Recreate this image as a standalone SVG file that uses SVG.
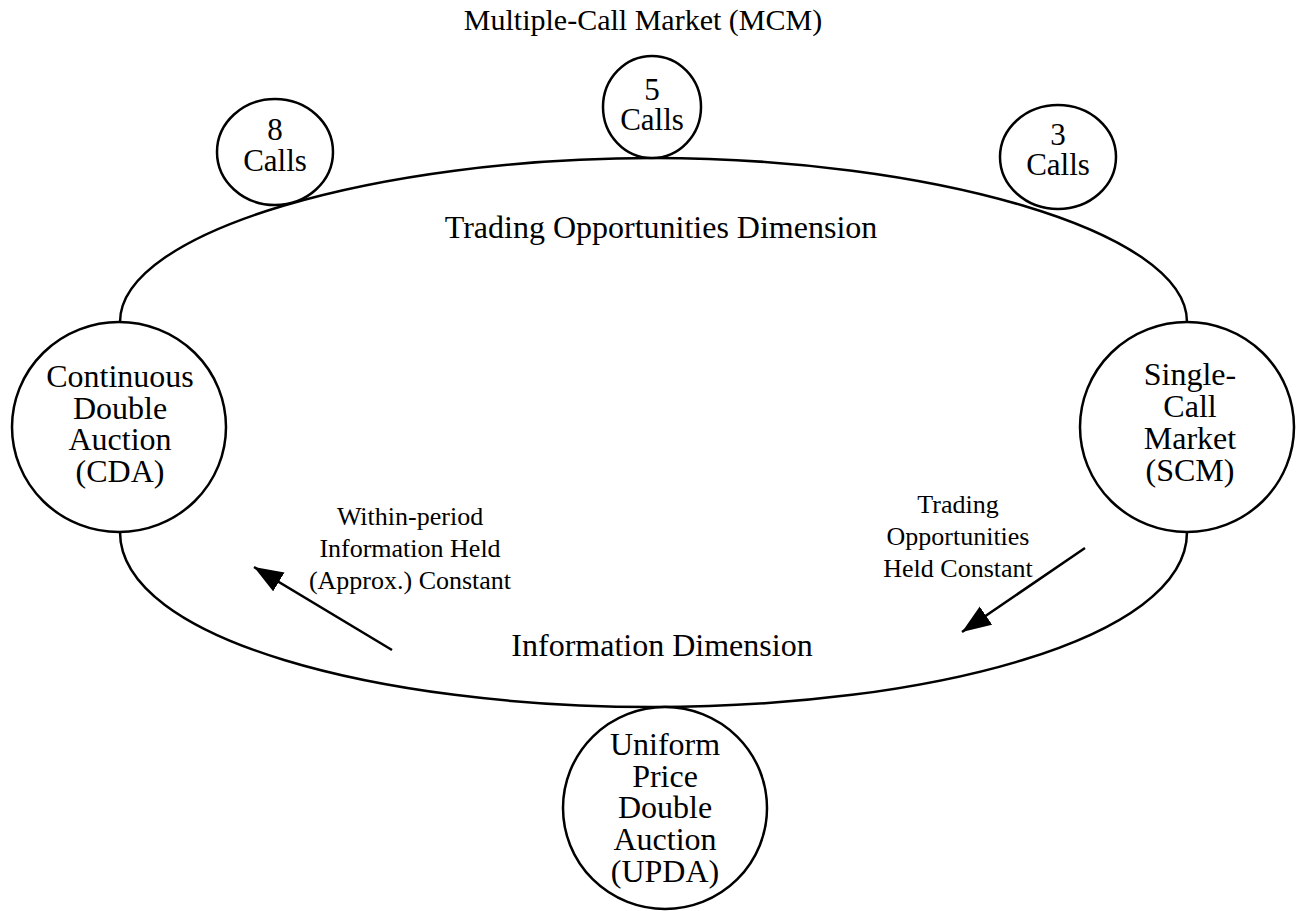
<svg xmlns="http://www.w3.org/2000/svg" width="1306" height="911" viewBox="0 0 1306 911">
<style>
text { font-family: "Liberation Serif", "Times New Roman", serif; fill: #000; text-anchor: middle; }
.big { font-size: 32px; }
.mid { font-size: 31px; }
.small { font-size: 26px; }
.title { font-size: 30px; }
.node { fill: #fff; stroke: #000; stroke-width: 2.5; }
.ring { fill: none; stroke: #000; stroke-width: 2.5; }
.conn { stroke: #000; stroke-width: 2.5; fill: none; marker-end: url(#arrow); }
</style>
<defs>
<marker id="arrow" markerUnits="userSpaceOnUse" markerWidth="32" markerHeight="24" refX="29" refY="11" orient="auto">
<path d="M0,0 L29,11 L0,22 Z" fill="#000"/>
</marker>
</defs>
<rect width="1306" height="911" fill="#fff"/>
<text class="title" x="643" y="30">Multiple-Call Market (MCM)</text>
<g id="ring">
<path class="ring" d="M120,322 C120,230 380,158 653,158 C927,158 1187,230 1187,322 L1187,532 C1187,640 927,707 653,707 C380,707 120,640 120,532 Z"/>
<text class="big" x="661" y="238">Trading Opportunities Dimension</text>
<text class="big" x="662" y="656">Information Dimension</text>
</g>
<g id="connectors">
<line class="conn" x1="392" y1="650" x2="254" y2="567"/>
<line class="conn" x1="1085" y1="548" x2="962" y2="632"/>
<text class="small" x="410" y="525"><tspan x="410">Within-period</tspan><tspan x="410" dy="32">Information Held</tspan><tspan x="410" dy="32">(Approx.) Constant</tspan></text>
<text class="small" x="958" y="513"><tspan x="958">Trading</tspan><tspan x="958" dy="32">Opportunities</tspan><tspan x="958" dy="32">Held Constant</tspan></text>
</g>
<g id="calls8">
<ellipse class="node" cx="275" cy="152" rx="58" ry="53"/>
<text class="mid" x="275" y="140"><tspan x="275">8</tspan><tspan x="275" dy="31">Calls</tspan></text>
</g>
<g id="calls5">
<ellipse class="node" cx="652" cy="107" rx="49" ry="51"/>
<text class="mid" x="652" y="100"><tspan x="652">5</tspan><tspan x="652" dy="30">Calls</tspan></text>
</g>
<g id="calls3">
<ellipse class="node" cx="1058" cy="157" rx="58" ry="52"/>
<text class="mid" x="1058" y="145"><tspan x="1058">3</tspan><tspan x="1058" dy="30">Calls</tspan></text>
</g>
<g id="cda">
<ellipse class="node" cx="119" cy="427" rx="107" ry="105"/>
<text class="big" x="120" y="387"><tspan x="120">Continuous</tspan><tspan x="120" dy="32">Double</tspan><tspan x="120" dy="31">Auction</tspan><tspan x="120" dy="32">(CDA)</tspan></text>
</g>
<g id="scm">
<ellipse class="node" cx="1187" cy="427" rx="107" ry="105"/>
<text class="big" x="1190" y="385"><tspan x="1190">Single-</tspan><tspan x="1190" dy="32">Call</tspan><tspan x="1190" dy="32">Market</tspan><tspan x="1190" dy="32">(SCM)</tspan></text>
</g>
<g id="upda">
<ellipse class="node" cx="665" cy="808" rx="102" ry="101"/>
<text class="big" x="665" y="755"><tspan x="665">Uniform</tspan><tspan x="665" dy="32">Price</tspan><tspan x="665" dy="31">Double</tspan><tspan x="665" dy="32">Auction</tspan><tspan x="665" dy="32">(UPDA)</tspan></text>
</g>
</svg>
